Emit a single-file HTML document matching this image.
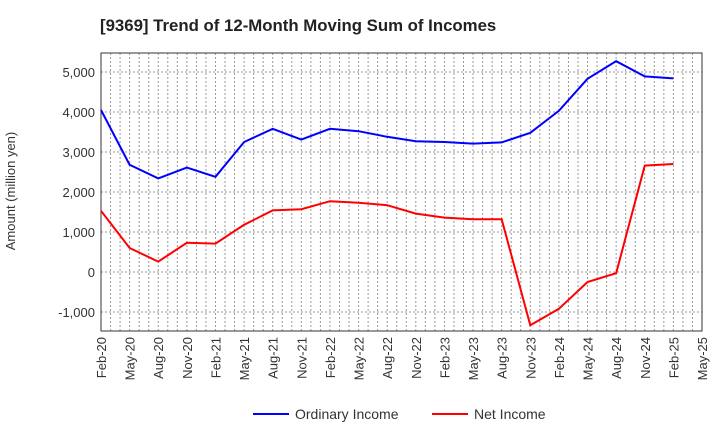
<!DOCTYPE html>
<html><head><meta charset="utf-8"><style>
body{margin:0;background:#fff;font-family:"Liberation Sans",sans-serif}
</style></head><body>
<svg id="c" width="720" height="440" xmlns="http://www.w3.org/2000/svg">
<text x="100" y="31" font-size="16.8" font-weight="bold" fill="#222">[9369]  Trend of 12-Month Moving Sum of Incomes</text>
<g id="grid"></g><g id="axes"></g><g id="series"></g>
<text transform="translate(15,191) rotate(-90)" text-anchor="middle" font-size="13" fill="#333">Amount (million yen)</text>
<g>
<line x1="253" y1="414" x2="289" y2="414" stroke="#0000ff" stroke-width="2"/>
<text x="295" y="419" font-size="14" fill="#333">Ordinary Income</text>
<line x1="432" y1="414" x2="468" y2="414" stroke="#ff0000" stroke-width="2"/>
<text x="474" y="419" font-size="14" fill="#333">Net Income</text>
</g>
</svg>
<script>
const xLabels=["Feb-20","May-20","Aug-20","Nov-20","Feb-21","May-21","Aug-21","Nov-21","Feb-22","May-22","Aug-22","Nov-22","Feb-23","May-23","Aug-23","Nov-23","Feb-24","May-24","Aug-24","Nov-24","Feb-25","May-25"];
const yTicks=[-1000,0,1000,2000,3000,4000,5000];
const ordinary=[4050,2680,2340,2610,2380,3250,3580,3310,3580,3520,3380,3270,3250,3210,3240,3480,4030,4830,5270,4890,4840];
const net=[1530,600,260,730,710,1180,1540,1570,1770,1730,1670,1460,1360,1320,1320,-1330,-920,-250,-30,2660,2700];
const L=101,R=702,T=53,B=331,yMin=-1475,yMax=5475;
const NS="http://www.w3.org/2000/svg";
const xs=i=>L+(R-L)*i/(xLabels.length-1);
const ys=v=>B-(v-yMin)/(yMax-yMin)*(B-T);
function mk(t,a,p){const e=document.createElementNS(NS,t);for(const k in a)e.setAttribute(k,a[k]);p.appendChild(e);return e;}
const g=document.getElementById('grid'),ax=document.getElementById('axes'),s=document.getElementById('series');
for(let m=1;m<63;m++){const x=L+(R-L)*m/63;const l=mk('line',{x1:x,x2:x,y1:T,y2:B,stroke:'#999','stroke-dasharray':'2,2','stroke-width':1},g);

}
yTicks.forEach(v=>{const y=ys(v);const l=mk('line',{x1:L,x2:R,y1:y,y2:y,stroke:'#999','stroke-dasharray':'2,2'},g);


const t=mk('text',{x:L-6,y:y+5,'text-anchor':'end','font-size':13,fill:'#333'},ax);t.textContent=v.toLocaleString('en-US');

});
const fr=mk('rect',{x:L,y:T,width:R-L,height:B-T,fill:'none',stroke:'#333'},ax);


xLabels.forEach((lab,i)=>{const x=xs(i);const t=mk('text',{transform:`translate(${x+5},${B+6}) rotate(-90)`,'text-anchor':'end','font-size':13,fill:'#333'},ax);t.textContent=lab;

});
function line(d,c,n){const p=mk('polyline',{points:d.map((v,i)=>xs(i)+','+ys(v)).join(' '),fill:'none',stroke:c,'stroke-width':2},s);

}
line(ordinary,'#0000ff','ordinary-income-line');
line(net,'#ff0000','net-income-line');
</script>
</body></html>
